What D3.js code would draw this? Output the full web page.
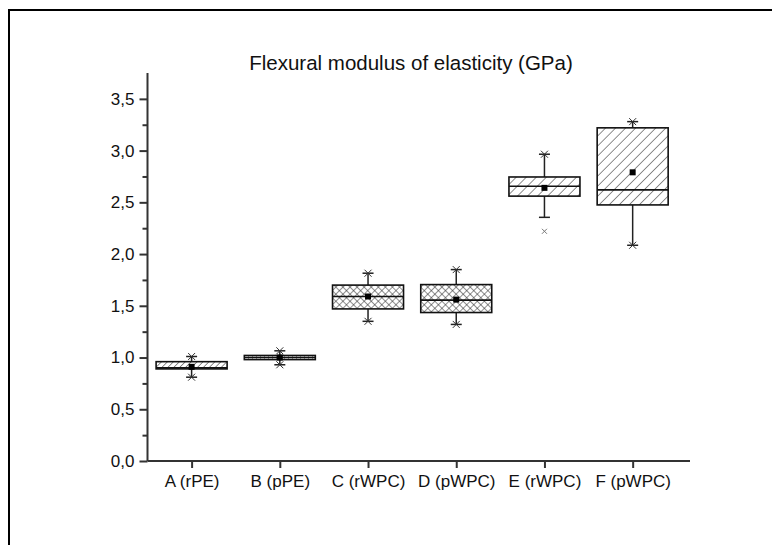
<!DOCTYPE html>
<html>
<head>
<meta charset="utf-8">
<script src="https://cdn.jsdelivr.net/npm/d3@7"></script>
<style>
  body { margin: 0; background: #fff; }
  text { font-family: "Liberation Sans", Arial, sans-serif; fill: #111; }
</style>
</head>
<body>
<svg id="chart" width="772" height="545"></svg>
<script>
// box plot data (GPa)
var categories = ["A (rPE)", "B (pPE)", "C (rWPC)", "D (pWPC)", "E (rWPC)", "F (pWPC)"];
var q1 = [0.89, 0.98, 1.47, 1.435, 2.56, 2.475];
var median = [0.90, 1.00, 1.59, 1.555, 2.655, 2.62];
var q3 = [0.96, 1.02, 1.70, 1.705, 2.745, 3.22];
var mean = [0.91, 1.00, 1.59, 1.56, 2.64, 2.79];
var whiskerLow = [0.81, 0.93, 1.35, 1.32, 2.355, 2.085];
var whiskerHigh = [1.01, 1.065, 1.815, 1.85, 2.965, 3.28];
var lowMark = [0.81, 0.93, 1.35, 1.32, null, 2.085];
var highMark = [1.01, 1.065, 1.815, 1.85, 2.965, 3.28];
var outliers = [[], [], [], [], [2.22], []];
var yTicks = [0, 0.5, 1.0, 1.5, 2.0, 2.5, 3.0, 3.5];

var svg = d3.select("#chart");

// outer frame (runs off the right and bottom edges)
svg.append("rect")
  .attr("x", 9).attr("y", 10)
  .attr("width", 800).attr("height", 600)
  .attr("fill", "none").attr("stroke", "#000").attr("stroke-width", 2);

//scales
var x = d3.scaleLinear().domain([0.5, 6.65]).range([147.5, 690]);
var y = d3.scaleLinear().domain([0, 3.75]).range([461, 73]);

// hatch patterns
var defs = svg.append("defs");
function hatch(id, spacing, angles, color) {
  var p = defs.append("pattern")
    .attr("id", id)
    .attr("patternUnits", "userSpaceOnUse")
    .attr("width", spacing).attr("height", spacing)
    .attr("patternTransform", "rotate(" + angles[0] + ")");
  p.append("rect").attr("width", spacing).attr("height", spacing).attr("fill", "#fff");
  p.append("line").attr("x1", 0).attr("y1", 0).attr("x2", 0).attr("y2", spacing)
    .attr("stroke", color).attr("stroke-width", 1.1);
  if (angles.length > 1) {
    p.append("line").attr("x1", 0).attr("y1", 0).attr("x2", spacing).attr("y2", 0)
      .attr("stroke", color).attr("stroke-width", 1.1);
  }
}
hatch("diagFine", 4.2, [45], "#333");
hatch("vert", 4, [0], "#555");
hatch("cross", 5, [45, 135], "#333");
hatch("diag", 7.1, [45], "#333");
var fills = ["url(#diagFine)", "url(#vert)", "url(#cross)", "url(#cross)", "url(#diag)", "url(#diag)"];

var boxW = 71;
var capW = 11;

var boxes = svg.append("g").selectAll("g")
  .data(categories)
  .enter().append("g");

// whiskers
boxes.append("line")
  .attr("x1", (d, i) => x(i + 1)).attr("x2", (d, i) => x(i + 1))
  .attr("y1", (d, i) => y(whiskerLow[i])).attr("y2", (d, i) => y(whiskerHigh[i]))
  .attr("stroke", "#222").attr("stroke-width", 1.5);

boxes.append("line")
  .attr("x1", (d, i) => x(i + 1) - capW / 2).attr("x2", (d, i) => x(i + 1) + capW / 2)
  .attr("y1", (d, i) => y(whiskerLow[i])).attr("y2", (d, i) => y(whiskerLow[i]))
  .attr("stroke", "#222").attr("stroke-width", 1.5);

boxes.append("line")
  .attr("x1", (d, i) => x(i + 1) - capW / 2).attr("x2", (d, i) => x(i + 1) + capW / 2)
  .attr("y1", (d, i) => y(whiskerHigh[i])).attr("y2", (d, i) => y(whiskerHigh[i]))
  .attr("stroke", "#222").attr("stroke-width", 1.5);

// boxes
boxes.append("rect")
  .attr("x", (d, i) => x(i + 1) - boxW / 2)
  .attr("y", (d, i) => y(q3[i]))
  .attr("width", boxW)
  .attr("height", (d, i) => y(q1[i]) - y(q3[i]))
  .attr("fill", (d, i) => fills[i])
  .attr("stroke", "#111").attr("stroke-width", 1.6);

// median
boxes.append("line")
  .attr("x1", (d, i) => x(i + 1) - boxW / 2).attr("x2", (d, i) => x(i + 1) + boxW / 2)
  .attr("y1", (d, i) => y(median[i])).attr("y2", (d, i) => y(median[i]))
  .attr("stroke", "#111").attr("stroke-width", 1.6);

// mean
boxes.append("rect")
  .attr("x", (d, i) => x(i + 1) - 3).attr("y", (d, i) => y(mean[i]) - 3)
  .attr("width", 6).attr("height", 6)
  .attr("fill", "#000");

// x markers at whisker ends (min / max)
function cross(sel, xv, yv, s, col) {
  sel.append("path")
    .attr("d", "M" + (xv - s) + "," + (yv - s) + "L" + (xv + s) + "," + (yv + s) +
      "M" + (xv - s) + "," + (yv + s) + "L" + (xv + s) + "," + (yv - s))
    .attr("stroke", col).attr("stroke-width", 1).attr("fill", "none");
}
boxes.each(function (d, i) {
  var g = d3.select(this);
  if (lowMark[i] != null) cross(g, x(i + 1), y(lowMark[i]), 3.5, "#333");
  if (highMark[i] != null) cross(g, x(i + 1), y(highMark[i]), 3.5, "#333");
  outliers[i].forEach(function (v) { cross(g, x(i + 1), y(v), 2.5, "#777"); });
});

// y axis
var yAxis = svg.append("g").attr("transform", "translate(" + x(0.5) + ",0)")
  .call(d3.axisLeft(y).tickValues(yTicks).tickSize(8).tickPadding(5)
    .tickFormat(d => d3.format(".1f")(d).replace(".", ",")));
svg.append("g").attr("transform", "translate(" + x(0.5) + ",0)")
  .call(d3.axisLeft(y).tickValues(d3.range(0.25, 3.75, 0.5)).tickSize(5).tickFormat(""))
  .select(".domain").remove();

// x axis
var xAxis = svg.append("g").attr("transform", "translate(0," + y(0) + ")")
  .call(d3.axisBottom(x).tickValues(d3.range(1, 7)).tickSize(7).tickPadding(7)
    .tickFormat(d => categories[d - 1]));

svg.selectAll(".domain").attr("stroke", "#333").attr("stroke-width", 2);
yAxis.select(".domain").attr("d", "M0," + y(3.75) + "V" + y(0));
xAxis.select(".domain").attr("d", "M" + x(0.5) + ",0H" + x(6.65));
svg.selectAll(".tick line").attr("stroke", "#333").attr("stroke-width", 2);
svg.selectAll(".tick text").attr("font-size", 17).attr("fill", "#111")
  .attr("font-family", "'Liberation Sans', Arial, sans-serif");

// title
svg.append("text")
  .attr("x", 411).attr("y", 70)
  .attr("text-anchor", "middle")
  .attr("font-size", 20.5)
  .text("Flexural modulus of elasticity (GPa)");
</script>
</body>
</html>
